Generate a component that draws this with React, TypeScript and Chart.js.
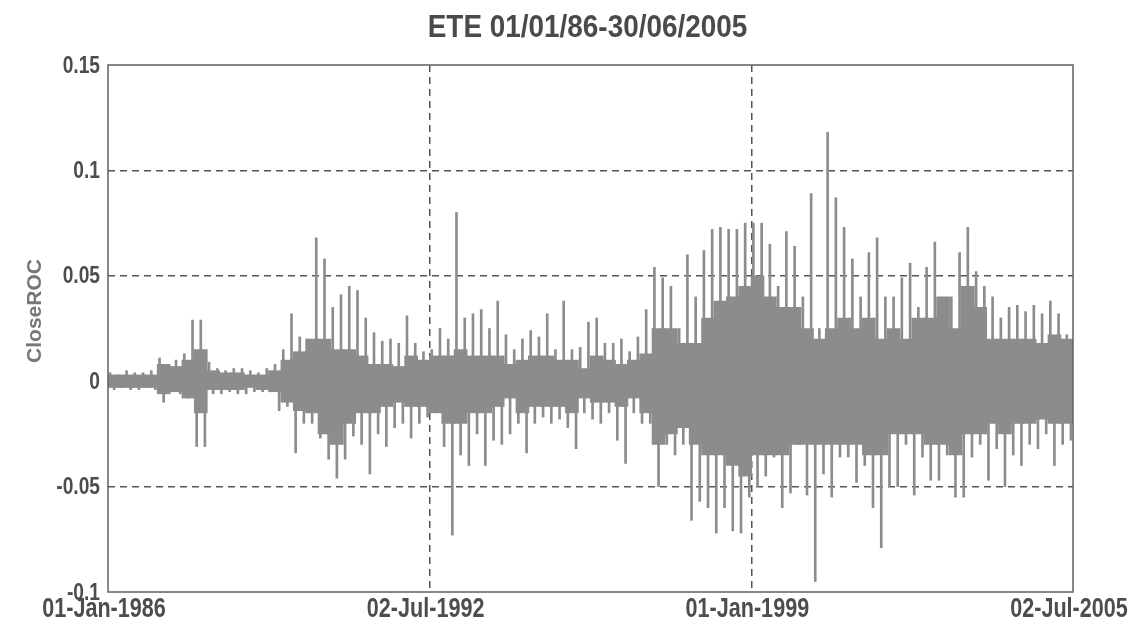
import { useEffect, useRef } from "react";
import { Chart, registerables } from "chart.js";

Chart.register(...registerables);

// Daily close rate-of-change, summarised as two-month bins (largest up / down move)
// and a quarterly band holding the dense bulk of daily moves.
const START_YEAR = 1986;
const BIN_YEARS = 1 / 6;
const CORE_YEARS = 1 / 4;

const SPIKE_HIGH = [
  0.004, 0.003, 0.005, 0.004, 0.004, 0.005,
  0.011, 0.008, 0.010, 0.013, 0.029, 0.029,
  0.009, 0.006, 0.005, 0.006, 0.006, 0.005,
  0.004, 0.006, 0.008, 0.015, 0.032, 0.021,
  0.020, 0.068, 0.058, 0.035, 0.041, 0.045,
  0.043, 0.030, 0.023, 0.019, 0.020, 0.018,
  0.031, 0.018, 0.014, 0.015, 0.025, 0.020,
  0.080, 0.030, 0.032, 0.034, 0.025, 0.038,
  0.022, 0.015, 0.020, 0.024, 0.021, 0.032,
  0.015, 0.038, 0.015, 0.016, 0.028, 0.030,
  0.018, 0.018, 0.020, 0.014, 0.021, 0.034,
  0.054, 0.049, 0.045, 0.025, 0.060, 0.040,
  0.062, 0.072, 0.073, 0.072, 0.072, 0.075,
  0.075, 0.075, 0.065, 0.045, 0.071, 0.064,
  0.040, 0.089, 0.025, 0.118, 0.087, 0.073,
  0.058, 0.040, 0.061, 0.068, 0.040, 0.040,
  0.049, 0.056, 0.035, 0.054, 0.066, 0.030,
  0.040, 0.061, 0.073, 0.052, 0.045, 0.040,
  0.030, 0.035, 0.036, 0.033, 0.036, 0.032,
  0.038, 0.032, 0.022,
];

const SPIKE_LOW = [
  -0.004, -0.003, -0.004, -0.004, -0.003, -0.004,
  -0.010, -0.005, -0.006, -0.008, -0.031, -0.031,
  -0.006, -0.006, -0.005, -0.006, -0.006, -0.005,
  -0.005, -0.005, -0.014, -0.012, -0.034, -0.020,
  -0.020, -0.027, -0.037, -0.046, -0.037, -0.026,
  -0.030, -0.044, -0.025, -0.031, -0.022, -0.020,
  -0.027, -0.020, -0.017, -0.015, -0.031, -0.073,
  -0.035, -0.040, -0.025, -0.040, -0.028, -0.030,
  -0.025, -0.020, -0.034, -0.020, -0.017, -0.020,
  -0.018, -0.022, -0.032, -0.015, -0.018, -0.020,
  -0.015, -0.028, -0.039, -0.015, -0.020, -0.020,
  -0.050, -0.030, -0.035, -0.030, -0.066, -0.057,
  -0.060, -0.072, -0.060, -0.071, -0.072, -0.055,
  -0.050, -0.045, -0.036, -0.060, -0.053, -0.030,
  -0.054, -0.095, -0.044, -0.055, -0.036, -0.036,
  -0.048, -0.040, -0.060, -0.079, -0.050, -0.050,
  -0.030, -0.054, -0.036, -0.047, -0.047, -0.035,
  -0.055, -0.055, -0.036, -0.030, -0.047, -0.032,
  -0.050, -0.035, -0.040, -0.030, -0.032, -0.025,
  -0.040, -0.030, -0.028,
];

const CORE_HIGH = [
  0.003, 0.003, 0.003, 0.003, 0.008, 0.007,
  0.010, 0.015, 0.005, 0.004, 0.004, 0.003,
  0.003, 0.005, 0.010, 0.014, 0.020, 0.020,
  0.015, 0.015, 0.012, 0.008, 0.008, 0.007,
  0.012, 0.010, 0.012, 0.012, 0.015, 0.012,
  0.012, 0.012, 0.008, 0.010, 0.012, 0.012,
  0.010, 0.010, 0.006, 0.012, 0.010, 0.008,
  0.010, 0.013, 0.025, 0.025, 0.018, 0.018,
  0.030, 0.038, 0.040, 0.045, 0.050, 0.040,
  0.035, 0.035, 0.025, 0.020, 0.025, 0.030,
  0.025, 0.030, 0.020, 0.025, 0.020, 0.030,
  0.030, 0.040, 0.025, 0.045, 0.035, 0.020,
  0.020, 0.020, 0.020, 0.018, 0.022, 0.020,
];

const CORE_LOW = [
  -0.003, -0.003, -0.003, -0.003, -0.006, -0.005,
  -0.008, -0.015, -0.004, -0.004, -0.004, -0.003,
  -0.004, -0.005, -0.010, -0.014, -0.015, -0.025,
  -0.030, -0.020, -0.015, -0.015, -0.012, -0.010,
  -0.012, -0.012, -0.015, -0.020, -0.020, -0.015,
  -0.015, -0.012, -0.008, -0.015, -0.012, -0.012,
  -0.012, -0.015, -0.008, -0.010, -0.010, -0.012,
  -0.008, -0.015, -0.030, -0.025, -0.022, -0.030,
  -0.035, -0.035, -0.040, -0.045, -0.035, -0.035,
  -0.035, -0.030, -0.030, -0.030, -0.030, -0.030,
  -0.030, -0.035, -0.035, -0.025, -0.025, -0.025,
  -0.030, -0.030, -0.035, -0.025, -0.025, -0.020,
  -0.025, -0.020, -0.020, -0.018, -0.020, -0.020,
];

const X_TICK_YEARS = [1986, 1992.5, 1999, 2005.5];
const X_TICK_LABELS = ["01-Jan-1986", "02-Jul-1992", "01-Jan-1999", "02-Jul-2005"];
const Y_TICKS = [-0.1, -0.05, 0, 0.05, 0.1, 0.15];
const Y_TICK_LABELS = ["-0.1", "-0.05", "0", "0.05", "0.1", "0.15"];

const TITLE = "ETE 01/01/86-30/06/2005";
const Y_TITLE = "CloseROC";

const SERIES_GRAY = "#8c8c8c";
const INK = "#4d4d4d";
const GRID = "#555555";
const CLEAR = "rgba(0,0,0,0)";
const BOLD_SANS = "'Liberation Sans', Arial, sans-serif";

// Condensed bold text: the same sans face squeezed horizontally.
function squeezedText(
  ctx: CanvasRenderingContext2D,
  text: string,
  x: number,
  y: number,
  size: number,
  squeeze: number,
  align: CanvasTextAlign,
  color: string
) {
  ctx.save();
  ctx.translate(x, y);
  ctx.scale(squeeze, 1);
  ctx.font = `bold ${size}px ${BOLD_SANS}`;
  ctx.fillStyle = color;
  ctx.textAlign = align;
  ctx.textBaseline = "middle";
  ctx.fillText(text, 0, 0);
  ctx.restore();
}

const labelsPlugin = {
  id: "frameAndLabels",
  afterDraw(chart: any) {
    const { ctx, chartArea, scales } = chart;
    ctx.save();
    ctx.strokeStyle = "#606060";
    ctx.lineWidth = 1.5;
    ctx.strokeRect(chartArea.left, chartArea.top, chartArea.right - chartArea.left, chartArea.bottom - chartArea.top);
    ctx.restore();

    // title, centred over the plot area
    squeezedText(ctx, TITLE, (chartArea.left + chartArea.right) / 2 - 3, 28, 31, 0.9, "center", "#4a4a4a");

    // y tick labels
    scales.y.ticks.forEach((t: any, i: number) => {
      squeezedText(ctx, Y_TICK_LABELS[i], chartArea.left - 8, scales.y.getPixelForValue(t.value) + 1, 24, 0.8, "right", INK);
    });

    // x tick labels
    scales.x.ticks.forEach((t: any, i: number) => {
      squeezedText(ctx, X_TICK_LABELS[i], scales.x.getPixelForValue(t.value) - 4, 610, 27, 0.8, "center", INK);
    });

    // y axis title
    ctx.save();
    ctx.translate(35, 311);
    ctx.rotate(-Math.PI / 2);
    ctx.fillStyle = "#777777";
    ctx.font = `bold 21px ${BOLD_SANS}`;
    ctx.textAlign = "center";
    ctx.textBaseline = "middle";
    ctx.fillText(Y_TITLE, 0, 0);
    ctx.restore();
  },
};

export default function App() {
  const canvasRef = useRef<HTMLCanvasElement | null>(null);

  useEffect(() => {
    if (!canvasRef.current) return;

    const upMoves = SPIKE_HIGH.map((v, i) => ({ x: START_YEAR + (i + 0.25) * BIN_YEARS, y: [0, v] }));
    const downMoves = SPIKE_LOW.map((v, i) => ({ x: START_YEAR + (i + 0.75) * BIN_YEARS, y: [v, 0] }));
    const coreBand = CORE_HIGH.map((v, i) => ({ x: START_YEAR + (i + 0.5) * CORE_YEARS, y: [CORE_LOW[i], v] }));

    const chart = new Chart(canvasRef.current, {
      type: "bar",
      data: {
        datasets: [
          {
            label: "core",
            data: coreBand as any,
            backgroundColor: SERIES_GRAY,
            barThickness: 13,
            grouped: false,
            order: 3,
          },
          {
            label: "up",
            data: upMoves as any,
            backgroundColor: SERIES_GRAY,
            barThickness: 2,
            grouped: false,
            order: 1,
          },
          {
            label: "down",
            data: downMoves as any,
            backgroundColor: SERIES_GRAY,
            barThickness: 2,
            grouped: false,
            order: 1,
          },
        ],
      },
      options: {
        responsive: false,
        animation: false,
        layout: { padding: { left: 0, right: 60, top: 65, bottom: 0 } },
        plugins: {
          legend: { display: false },
          tooltip: { enabled: false },
          title: { display: false },
        },
        scales: {
          x: {
            type: "linear",
            min: X_TICK_YEARS[0],
            max: X_TICK_YEARS[X_TICK_YEARS.length - 1],
            offset: false,
            z: 1,
            afterBuildTicks: (scale: any) => {
              scale.ticks = X_TICK_YEARS.map((value) => ({ value }));
            },
            afterFit: (scale: any) => {
              scale.height = 36;
            },
            ticks: { display: false },
            grid: {
              offset: false,
              drawTicks: false,
              lineWidth: 1.5,
              color: (ctx: any) =>
                ctx.index === 0 || ctx.index === X_TICK_YEARS.length - 1 ? CLEAR : GRID,
            },
            border: { display: false, dash: [7, 5] },
          },
          y: {
            type: "linear",
            min: Y_TICKS[0],
            max: Y_TICKS[Y_TICKS.length - 1],
            z: 1,
            afterBuildTicks: (scale: any) => {
              scale.ticks = Y_TICKS.map((value) => ({ value }));
            },
            afterFit: (scale: any) => {
              scale.width = 108;
            },
            ticks: { display: false },
            grid: {
              drawTicks: false,
              lineWidth: 1.5,
              color: (ctx: any) =>
                ctx.index === 0 || ctx.index === Y_TICKS.length - 1 || Y_TICKS[ctx.index] === 0 ? CLEAR : GRID,
            },
            border: { display: false, dash: [7, 5] },
          },
        },
      },
      plugins: [labelsPlugin],
    });

    return () => chart.destroy();
  }, []);

  return (
    <div style={{ position: "absolute", left: 0, top: 0, width: 1133, height: 628, background: "#ffffff" }}>
      <canvas ref={canvasRef} width={1133} height={628} />
    </div>
  );
}
